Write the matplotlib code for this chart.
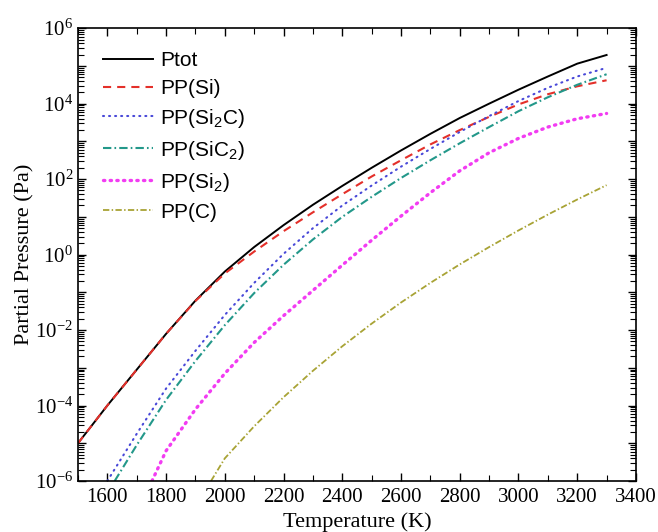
#!usr/bin/env python
'''
partial pressures of the vapour species over SiC against temperature
'''

import numpy as np
import matplotlib
matplotlib.use('Agg')
import matplotlib.pyplot as plt
from matplotlib.ticker import LogLocator, FuncFormatter, MultipleLocator, NullFormatter

# temperature (K) and log10 of the pressure (Pa)
t_tot = [1500, 1600, 1700, 1800, 1900, 2000, 2100, 2200, 2300, 2400,
         2500, 2600, 2700, 2800, 2900, 3000, 3100, 3200, 3300]
log_tot = [-5.0, -4.0, -3.05, -2.1, -1.22, -0.45, 0.2, 0.78, 1.32, 1.82,
           2.3, 2.76, 3.2, 3.62, 4.0, 4.37, 4.72, 5.06, 5.29]

t_si = t_tot
log_si = [-5.0, -4.0, -3.05, -2.1, -1.23, -0.5, 0.08, 0.62, 1.12, 1.6,
          2.07, 2.5, 2.92, 3.3, 3.65, 3.98, 4.25, 4.46, 4.62]

t_si2c = [1600, 1700, 1800, 1900, 2000, 2100, 2200, 2300, 2400, 2500,
          2600, 2700, 2800, 2900, 3000, 3100, 3200, 3300]
log_si2c = [-6.0, -4.75, -3.55, -2.55, -1.6, -0.75, 0.02, 0.7, 1.3, 1.83,
            2.33, 2.8, 3.25, 3.67, 4.07, 4.42, 4.72, 4.95]

t_sic2 = [1625, 1700, 1800, 1900, 2000, 2100, 2200, 2300, 2400, 2500,
          2600, 2700, 2800, 2900, 3000, 3100, 3200, 3300]
log_sic2 = [-6.0, -5.05, -3.85, -2.82, -1.87, -1.02, -0.27, 0.4, 1.0, 1.53,
            2.03, 2.5, 2.95, 3.38, 3.8, 4.17, 4.5, 4.78]

t_si2 = [1752, 1800, 1900, 2000, 2100, 2200, 2300, 2400, 2500,
         2600, 2700, 2800, 2900, 3000, 3100, 3200, 3300]
log_si2 = [-6.0, -5.2, -4.1, -3.15, -2.33, -1.62, -0.95, -0.28, 0.38,
           1.02, 1.64, 2.22, 2.7, 3.08, 3.38, 3.6, 3.74]

t_c = [1953, 2000, 2100, 2200, 2300, 2400, 2500, 2600, 2700,
       2800, 2900, 3000, 3100, 3200, 3300]
log_c = [-6.0, -5.4, -4.55, -3.78, -3.08, -2.43, -1.83, -1.27, -0.75,
         -0.26, 0.2, 0.64, 1.06, 1.46, 1.84]

x_ticks = [1600, 1800, 2000, 2200, 2400, 2600, 2800, 3000, 3200, 3400]


def plot_pressures():
    plt.rcParams['font.family'] = 'Liberation Serif'
    plt.rcParams['mathtext.fontset'] = 'custom'
    plt.rcParams['mathtext.rm'] = 'Liberation Serif'

    fig = plt.figure(figsize=(6.58, 5.32), dpi=100)
    ax = fig.add_axes([0.1185, 0.0959, 0.848, 0.8511])

    ax.plot(t_tot, 10 ** np.array(log_tot), color='black', lw=1.4, label='Ptot')
    ax.plot(t_si, 10 ** np.array(log_si), color='#e4302a', lw=1.5,
            dashes=(3.9, 2.9), label='PP(Si)')
    ax.plot(t_si2c, 10 ** np.array(log_si2c), color='#4848d8', lw=1.5,
            dashes=(0.5, 2.4), dash_capstyle='round', label=r'PP(Si$\mathregular{_2}$C)')
    ax.plot(t_sic2, 10 ** np.array(log_sic2), color='#23988a', lw=1.5,
            dashes=(4, 1.5, 0.8, 1.5), label=r'PP(SiC$\mathregular{_2}$)')
    ax.plot(t_si2, 10 ** np.array(log_si2), color='#f23cf2', lw=2.4,
            dashes=(0.4, 1.6), dash_capstyle='round', label=r'PP(Si$\mathregular{_2}$)')
    ax.plot(t_c, 10 ** np.array(log_c), color='#a8a335', lw=1.3,
            dashes=(3.5, 1.3, 0.8, 1.3), label='PP(C)')

    ax.set_yscale('log')
    ax.set_xlim(1500, 3400)
    ax.set_ylim(1e-6, 1e6)

    ax.set_xticks(x_ticks)
    ax.xaxis.set_minor_locator(MultipleLocator(100))
    ax.yaxis.set_major_locator(LogLocator(base=10, numticks=20))
    ax.yaxis.set_minor_locator(LogLocator(base=10, subs=np.arange(2, 10), numticks=50))
    ax.yaxis.set_minor_formatter(NullFormatter())

    def ylab(v, pos):
        e = int(round(np.log10(v)))
        if e % 2:
            return ''
        return r'$\mathregular{10^{%d}}$' % e
    ax.yaxis.set_major_formatter(FuncFormatter(ylab))

    ax.tick_params(which='both', direction='in', top=True, right=True, labelsize=15)
    ax.tick_params(which='major', length=6, width=1)
    ax.tick_params(which='minor', length=4, width=0.8)
    ax.tick_params(axis='x', pad=5)
    for s in ax.spines.values():
        s.set_linewidth(1.2)

    ax.set_xlabel('Temperature (K)', fontsize=16, labelpad=4)
    ax.set_ylabel('Partial Pressure (Pa)', fontsize=16, labelpad=0)

    ax.legend(loc='upper left', bbox_to_anchor=(0.045, 0.95), frameon=False,
              handlelength=2.4, borderpad=0, borderaxespad=0,
              prop={'family': 'Liberation Sans', 'size': 15},
              labelspacing=0.43, handletextpad=0.35)

    fig.savefig('out.png', dpi=100)


if __name__ == "__main__":
    plot_pressures()
